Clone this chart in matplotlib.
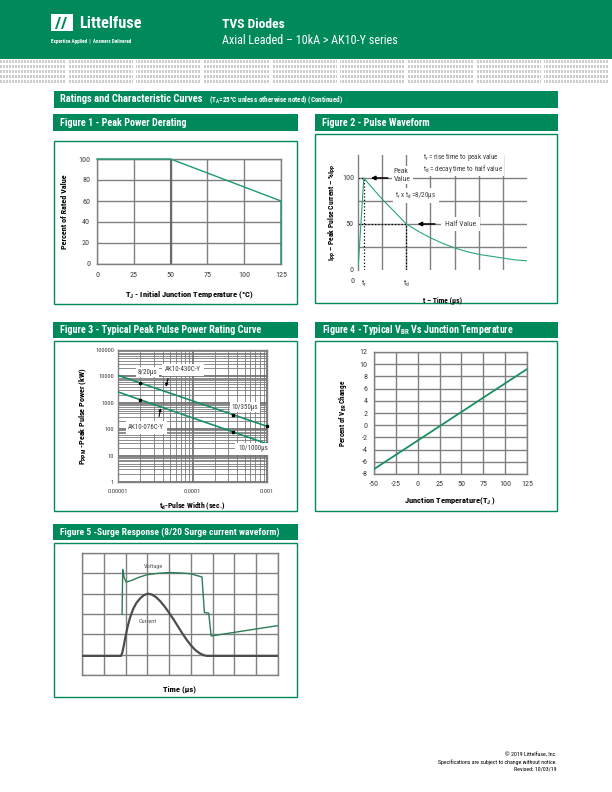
import numpy as np
import matplotlib
matplotlib.use('Agg')
import matplotlib.pyplot as plt
import matplotlib.transforms as mtransforms
from matplotlib.patches import Rectangle, Polygon
from matplotlib.ticker import LogLocator, NullFormatter, FixedLocator, FixedFormatter

FONTS = ['Roboto Condensed', 'Liberation Sans', 'DejaVu Sans']
plt.rcParams['font.family'] = FONTS
plt.rcParams['mathtext.fontset'] = 'custom'
plt.rcParams['mathtext.rm'] = 'Roboto Condensed'
plt.rcParams['mathtext.bf'] = 'Roboto Condensed:bold'
plt.rcParams['mathtext.it'] = 'Roboto Condensed:italic'
plt.rcParams['mathtext.default'] = 'regular'
plt.rcParams['axes.unicode_minus'] = False

GREEN = '#00895a'
LINE = '#1e9b6e'
GRID = '#808080'
TICK = '#3c3c3c'

# Figure 1 - Peak power derating
f1_temp = [0, 50, 125, 125]
f1_pct = [100, 100, 60, 0]

# Figure 2 - Pulse waveform (schematic, 10 us per grid)
f2_t = [0, 2.4, 4, 6, 8, 10, 13, 16, 20, 25, 30, 35, 40, 45, 50, 55, 60, 65, 70]
f2_i = [0, 100, 95, 89, 83, 77, 69, 61, 50, 42, 35, 29, 24, 20, 17, 15, 13, 11, 10]
f2_tr = 2.4
f2_td = 20

# Figure 3 - Peak pulse power rating
f3_width = [1e-5, 2e-5, 3.5e-4, 1e-3]
f3_ak430 = [11000, 5600, 355, 129]
f3_ak076 = [2580, 1300, 79, 28]
f3_yticks = [1, 10, 100, 1000, 10000, 100000]
f3_ylabels = ['1', '10', '100', '1000', '10000', '100000']
f3_xticks = [1e-5, 1e-4, 1e-3]
f3_xlabels = ['0.00001', '0.0001', '0.001']

# Figure 4 - VBR vs junction temperature
f4_temp = [-50, 125]
f4_change = [-7.2, 9.2]

# Figure 5 - Surge response (divisions)
f5_volt_t = [1.84, 1.87, 1.89, 1.93, 2.03, 2.3, 2.6, 2.98, 3.5, 3.98, 4.5, 4.98, 5.51, 5.62, 5.82, 5.93, 9.0]
f5_volt_v = [2.99, 5.18, 5.12, 4.8, 4.57, 4.66, 4.8, 4.93, 5.0, 5.04, 5.02, 4.98, 4.82, 3.07, 3.04, 1.92, 2.43]
f5_curr_t = [0, 1.79, 1.85, 1.92, 2.0, 2.1, 2.2, 2.35, 2.5, 2.68, 2.85, 3.02, 3.2, 3.4, 3.6, 3.8, 4.0,
             4.2, 4.4, 4.6, 4.8, 5.0, 5.2, 5.4, 5.6, 5.75, 9.0]
f5_curr_i = [0.94, 0.94, 1.1, 1.45, 1.9, 2.4, 2.8, 3.25, 3.55, 3.78, 3.93, 4.0, 3.96, 3.83, 3.62, 3.36, 3.06,
             2.74, 2.4, 2.06, 1.74, 1.46, 1.23, 1.07, 0.97, 0.94, 0.94]

W, H = 612, 792
fig = plt.figure(figsize=(W / 100, H / 100), dpi=100)

bg = fig.add_axes([0, 0, 1, 1])
bg.set_zorder(-1)
bg.axis('off')


def px_axes(x0, y0, x1, y1):
    return fig.add_axes([x0 / W, 1 - y1 / H, (x1 - x0) / W, (y1 - y0) / H])


def rect(x0, y0, x1, y1, **kw):
    bg.add_patch(Rectangle((x0, y0), x1 - x0, y1 - y0, **kw))


# header
rect(0, 0, 612, 59, color=GREEN, lw=0)
yy, xx = np.mgrid[0:24, 0:612]
pat = ((yy % 5) < 3) & ((xx % 3) < 2) & ((xx % 68) < 65)
bg.imshow(np.where(pat, 0.8, 1.0), cmap='gray', vmin=0, vmax=1, extent=(0, 612, 84, 60),
          interpolation='nearest', aspect='auto')
bg.set_xlim(0, W)
bg.set_ylim(H, 0)

# logo
rect(51, 14, 73, 31, color='white', lw=0)
for dx in (0, 6):
    bg.add_patch(Polygon([[55 + dx, 29], [59 + dx, 17], [61 + dx, 17], [57 + dx, 29]], closed=True,
                         color=GREEN, lw=0))
bg.text(79, 23, 'Littelfuse', color='white', size=11.7, weight='bold', va='center', ha='left')
bg.text(51, 41, 'Expertise Applied  |  Answers Delivered', color='white', size=3.7, weight='bold',
        va='center', ha='left')
bg.text(222, 24, 'TVS Diodes', color='white', size=9.7, weight='bold', va='center', ha='left')
bg.text(222, 40, 'Axial Leaded – 10kA > AK10-Y series', color='white', size=8.7, va='center', ha='left')

# section bar and figure title bars
rect(54, 91, 558, 108, color=GREEN, lw=0)
bg.text(60, 99.5, 'Ratings and Characteristic Curves', color='white', size=7.6, weight='bold', va='center')
bg.text(209, 100.5, r'(T$_{\mathbf{A}}$=25°C unless otherwise noted) (Continued)', color='white', size=5.1,
        weight='bold', va='center')

bars = [(53, 114, 298, 131, 'Figure 1 - Peak Power Derating', 7.3),
        (315, 114, 558, 131, 'Figure 2 - Pulse Waveform', 7.3),
        (53, 322, 298, 338, 'Figure 3 - Typical Peak Pulse Power Rating Curve', 7.3),
        (315, 322, 558, 338, r'Figure 4 - Typical V$_{\mathbf{BR}}$ Vs Junction Temperature', 7.2),
        (53, 524, 298, 540, 'Figure 5 -Surge Response (8/20 Surge current waveform)', 6.8)]
for x0, y0, x1, y1, s, fs in bars:
    rect(x0, y0, x1, y1, color=GREEN, lw=0)
    bg.text(x0 + 7, (y0 + y1) / 2, s, color='white', size=fs, weight='bold', va='center')

boxes = [(54, 141, 297, 304), (315, 134, 557, 303), (54, 341, 297, 511), (315, 341, 557, 511),
         (54, 543, 297, 697)]
for x0, y0, x1, y1 in boxes:
    rect(x0, y0, x1, y1, fill=False, edgecolor=GREEN, lw=1.0)

# footer
bg.text(557, 755, '© 2019 Littelfuse, Inc.', size=4.2, ha='right', va='center')
bg.text(557, 762, 'Specifications are subject to change without notice.', size=4.2, ha='right', va='center')
bg.text(557, 769, 'Revised: 10/03/19', size=4.2, ha='right', va='center')


def style(ax, spines=True):
    for s in ax.spines.values():
        s.set_color(GRID)
        s.set_linewidth(1.0)
        s.set_visible(spines)
    ax.tick_params(length=0, colors=TICK, labelsize=5.8)
    ax.set_axisbelow(True)


# ---- Figure 1
ax1 = px_axes(97, 159, 281, 264)
style(ax1)
ax1.set_xlim(0, 125)
ax1.set_ylim(0, 100)
ax1.set_xticks(range(0, 126, 25))
ax1.set_yticks(range(0, 101, 20))
ax1.grid(color=GRID, lw=1.0)
ax1.axvline(50, color='#6a6a6a', lw=1.5, zorder=1)
ax1.plot(f1_temp, f1_pct, color=LINE, lw=1.0, clip_on=False, zorder=3)
ax1.tick_params(axis='x', pad=6)
ax1.tick_params(axis='y', pad=5)
ax1.set_ylabel('Percent of Rated Value', size=5.9, weight='bold', labelpad=7)
ax1.set_xlabel(r'T$_{\mathbf{J}}$ - Initial Junction Temperature (°C)', size=6.1, weight='bold', labelpad=8)

# ---- Figure 2
ax2 = px_axes(358, 155, 527, 270)
style(ax2, spines=False)
ax2.spines['left'].set_visible(True)
ax2.set_xlim(0, 70)
ax2.set_ylim(0, 125)
for gx in range(10, 70, 10):
    ax2.axvline(gx, color=GRID, lw=1.0, zorder=0)
for gy in range(25, 101, 25):
    ax2.axhline(gy, color=GRID, lw=1.0, zorder=0)
ax2.plot(f2_t, f2_i, color='#2aa57a', lw=0.8, zorder=3)
ax2.plot([0, f2_tr], [100, 100], ls=':', color='black', lw=0.9, zorder=2)
ax2.plot([f2_tr, f2_tr], [0, 100], ls=':', color='black', lw=0.9, zorder=2)
ax2.plot([0, f2_td], [50, 50], ls=':', color='black', lw=0.9, zorder=2)
ax2.plot([f2_td, f2_td], [0, 50], ls=':', color='black', lw=0.9, zorder=2)
ax2.set_yticks([0, 50, 100])
ax2.set_xticks([f2_tr, f2_td])
ax2.set_xticklabels([r't$_r$', r't$_d$'])
ax2.tick_params(axis='y', pad=3)
ax2.tick_params(axis='x', pad=6)
blend = mtransforms.blended_transform_factory(ax2.transData, ax2.transAxes)
ax2.text(-2.3, -0.095, '0', transform=blend, size=5.8, color=TICK, ha='center', va='center')
wb = dict(facecolor='white', edgecolor='none', pad=1.5)
ax2.text(14.8, 103.5, 'Peak\nValue', size=5.5, color=TICK, va='center', ha='left', bbox=wb, zorder=4,
         linespacing=1.3)
ax2.annotate('', xy=(4.2, 100), xytext=(13.5, 100),
             arrowprops=dict(arrowstyle='-|>', color='black', lw=1.1, mutation_scale=6), zorder=5)
ax2.text(36, 50, 'Half Value', size=5.5, color=TICK, va='center', ha='left',
         bbox=dict(facecolor='white', edgecolor='none', pad=3), zorder=4)
ax2.annotate('', xy=(23.5, 50), xytext=(33, 50),
             arrowprops=dict(arrowstyle='-|>', color='black', lw=1.1, mutation_scale=6), zorder=5)
ax2.text(27, 115.5, 't$_r$ = rise time to peak value\nt$_d$ = decay time to half value', size=5.1,
         color=TICK, va='center', ha='left', linespacing=1.05,
         bbox=dict(facecolor='white', edgecolor='none', pad=0.3), zorder=4)
ax2.text(15.5, 81, r't$_r$ x t$_d$ =8/20μs', size=5, color=TICK, va='center', ha='left', bbox=wb, zorder=4)
ax2.set_ylabel(r'I$_{\mathbf{PP}}$ – Peak Pulse Current – %I$_{\mathbf{PP}}$', size=5.5, weight='bold',
               labelpad=3)
ax2.set_xlabel('t – Time (μs)', size=5.4, weight='bold', labelpad=6)

# ---- Figure 3
ax3 = px_axes(118, 350, 267, 482)
style(ax3)
ax3.set_xscale('log')
ax3.set_yscale('log')
ax3.set_xlim(1e-5, 1e-3)
ax3.set_ylim(1, 1e5)
ax3.xaxis.set_major_locator(FixedLocator(f3_xticks))
ax3.xaxis.set_major_formatter(FixedFormatter(f3_xlabels))
ax3.yaxis.set_major_locator(FixedLocator(f3_yticks))
ax3.yaxis.set_major_formatter(FixedFormatter(f3_ylabels))
ax3.xaxis.set_minor_locator(LogLocator(base=10, subs=range(2, 10)))
ax3.yaxis.set_minor_locator(LogLocator(base=10, subs=range(2, 10)))
ax3.xaxis.set_minor_formatter(NullFormatter())
ax3.yaxis.set_minor_formatter(NullFormatter())
ax3.grid(which='major', color='#6a6a6a', lw=1.2)
ax3.grid(which='minor', color='#7a7a7a', lw=0.6)
ax3.tick_params(which='both', length=0, labelsize=4.6)
ax3.tick_params(axis='y', pad=3)
ax3.tick_params(axis='x', pad=5)
for series in (f3_ak430, f3_ak076):
    ax3.plot(f3_width, series, color='#168f68', lw=1.2, zorder=3)
    ax3.plot(f3_width[1:], series[1:], ls='none', marker='s', ms=1.8, color='black', zorder=4, clip_on=False)
tb = dict(facecolor='white', edgecolor='none', pad=1.2)
ax3.text(2.5e-5, 14300, '8/20μs', size=5, color=TICK, ha='center', va='center', bbox=tb, zorder=5)
ax3.text(7.5e-5, 17800, 'AK10-430C-Y', size=5, color=TICK, ha='center', va='center',
         bbox=dict(facecolor='white', edgecolor='none', pad=2.0), zorder=5)
ax3.text(5.1e-4, 676, '10/350μs', size=5, color=TICK, ha='center', va='center', bbox=tb, zorder=5)
ax3.text(2.4e-5, 117, 'AK10-076C-Y', size=5, color=TICK, ha='center', va='center',
         bbox=dict(facecolor='white', edgecolor='none', pad=2.0), zorder=5)
ax3.text(6.5e-4, 17.8, '10/1000μs', size=5, color=TICK, ha='center', va='center',
         bbox=dict(facecolor='white', edgecolor='none', pad=2.0), zorder=5)
ax3.annotate('', xy=(4.3e-5, 3200), xytext=(4.8e-5, 10500),
             arrowprops=dict(arrowstyle='-|>', color='black', lw=0.8, mutation_scale=4), zorder=6)
ax3.annotate('', xy=(3.8e-5, 800), xytext=(3.5e-5, 240),
             arrowprops=dict(arrowstyle='-|>', color='black', lw=0.8, mutation_scale=4), zorder=6)
ax3.set_ylabel(r'P$_{\mathbf{PPM}}$ -Peak Pulse Power (kW)', size=5.9, weight='bold', labelpad=4)
ax3.set_xlabel(r't$_{\mathbf{d}}$-Pulse Width (sec.)', size=5.6, weight='bold', labelpad=5)

# ---- Figure 4
ax4 = px_axes(374, 352, 527, 474)
style(ax4)
ax4.set_xlim(-50, 125)
ax4.set_ylim(-8, 12)
ax4.set_xticks(range(-50, 126, 25))
ax4.set_yticks(range(-8, 13, 2))
ax4.grid(color=GRID, lw=1.0)
ax4.plot(f4_temp, f4_change, color='#1a9060', lw=1.3, zorder=3)
ax4.tick_params(axis='y', pad=4.5)
ax4.tick_params(axis='x', pad=5)
ax4.set_ylabel(r'Percent of V$_{\mathbf{BR}}$ Change', size=5.2, weight='bold', labelpad=8)
ax4.set_xlabel(r'Junction Temperature(T$_{\mathbf{J}}$ )', size=6.1, weight='bold', labelpad=6)

# ---- Figure 5
ax5 = px_axes(82, 553, 278, 675)
style(ax5)
ax5.set_xlim(0, 9)
ax5.set_ylim(0, 6)
ax5.set_xticks(range(0, 10))
ax5.set_yticks(range(0, 7))
ax5.set_xticklabels([])
ax5.set_yticklabels([])
ax5.grid(color=GRID, lw=1.0)
ax5.plot(f5_volt_t, f5_volt_v, color='#2b7d58', lw=1.0, zorder=3)
ax5.plot(f5_curr_t, f5_curr_i, color='#4d4d4d', lw=1.6, zorder=3)
ax5.text(3.3, 5.34, 'Voltage', size=4.6, color='#555555', ha='center', va='center')
ax5.text(3.0, 2.61, 'Current', size=4.6, color='#555555', ha='center', va='center')
ax5.set_xlabel('Time (μs)', size=6.1, weight='bold', labelpad=4)

fig.savefig('out.png', dpi=100)
